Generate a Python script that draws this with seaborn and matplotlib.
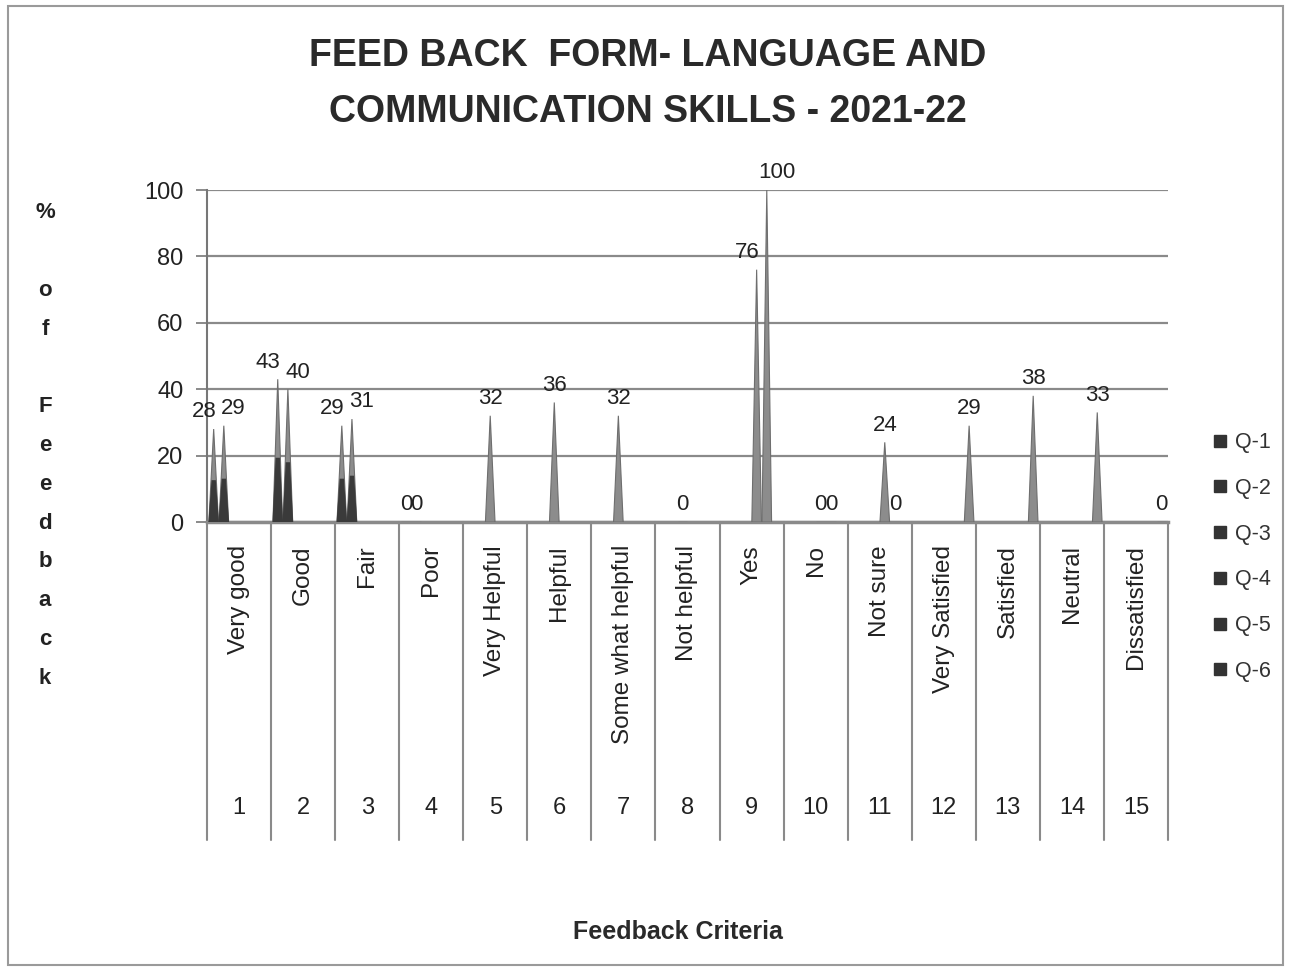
import matplotlib
matplotlib.use("Agg")
import matplotlib.pyplot as plt
from matplotlib.patches import Polygon, Rectangle
from matplotlib.lines import Line2D
import seaborn as sns
import pandas as pd
import numpy as np

# --- data ---
criteria = ["Very good", "Good", "Fair", "Poor", "Very Helpful", "Helpful",
            "Some what helpful", "Not helpful", "Yes", "No", "Not sure",
            "Very Satisfied", "Satisfied", "Neutral", "Dissatisfied"]
criteria_no = [str(i) for i in range(1, 16)]
series = ["Q-1", "Q-2", "Q-3", "Q-4", "Q-5", "Q-6"]
nan = np.nan
q1 = [28, 43, 29, 0, nan, nan, nan, nan, nan, nan, nan, nan, nan, nan, nan]
q2 = [29, 40, 31, 0, nan, nan, nan, nan, nan, nan, nan, nan, nan, nan, nan]
q3 = [nan, nan, nan, nan, 32, 36, 32, 0, nan, nan, nan, nan, nan, nan, nan]
q4 = [nan, nan, nan, nan, nan, nan, nan, nan, 76, 0, 24, nan, nan, nan, nan]
q5 = [nan, nan, nan, nan, nan, nan, nan, nan, 100, 0, 0, nan, nan, nan, nan]
q6 = [nan, nan, nan, nan, nan, nan, nan, nan, nan, nan, nan, 29, 38, 33, 0]
y_ticks = [0, 20, 40, 60, 80, 100]

rows = []
for name, vals in zip(series, [q1, q2, q3, q4, q5, q6]):
    for c, v in zip(criteria, vals):
        rows.append({"Criteria": c, "Series": name, "Value": v})
df = pd.DataFrame(rows)

sns.set_theme(style="white")
plt.rcParams["font.family"] = ["Liberation Sans", "DejaVu Sans"]

W, H = 1293, 971
fig = plt.figure(figsize=(W / 100, H / 100), dpi=100)
fig.patch.set_facecolor("white")

# outer chart border
fig.patches.append(Rectangle((8 / W, 6 / H), 1275 / W, 959 / H, transform=fig.transFigure,
                             fill=False, edgecolor="#9a9a9a", lw=1.5))

x0, x1, y0, y1 = 207, 1168, 522, 190
ax = fig.add_axes([x0 / W, 1 - y0 / H, (x1 - x0) / W, (y0 - y1) / H])

sns.barplot(data=df, x="Criteria", y="Value", hue="Series", order=criteria,
            hue_order=series, palette=["#8a8a8a"] * 6, width=0.95, dodge=True,
            legend=False, ax=ax, errorbar=None)

# turn bars into cones
cones = []
for p in list(ax.patches):
    h = p.get_height()
    xc = p.get_x() + p.get_width() / 2
    p.remove()
    if np.isnan(h):
        continue
    cones.append((xc, h))

half = 0.075
for xc, h in cones:
    ax.add_patch(Polygon([(xc - half, 0), (xc, h), (xc + half, 0)], closed=True,
                         facecolor="#8c8c8c", edgecolor="#6e6e6e", lw=0.8, zorder=3))
    if 0 < h < 50 and xc < 3:
        ax.add_patch(Polygon([(xc - half * 1.1, 0), (xc - half * 0.45, h * 0.45),
                              (xc + half * 0.45, h * 0.45), (xc + half * 1.1, 0)],
                             closed=True, facecolor="#3a3a3a", edgecolor="none", zorder=4))

# value labels; a pair of cones in one category gets its labels pushed apart
for xc, h in cones:
    cat = int(round(xc))
    mates = [c for c, v in cones if int(round(c)) == cat and c != xc and v > 0]
    dx = 0
    if mates and h > 0:
        dx = -0.15 if xc < mates[0] else 0.15
    ax.text(xc + dx, h + 2, f"{h:.0f}", ha="center", va="bottom", fontsize=16,
            color="#222222", zorder=5)

ax.set_xlim(-0.5, len(criteria) - 0.5)
ax.set_ylim(0, 100)
ax.set_yticks(y_ticks)
ax.set_yticklabels([str(t) for t in y_ticks], fontsize=17, color="#222222")
ax.tick_params(axis="y", length=8, width=1.2, color="#777777", pad=9, left=True)
ax.set_xticks([])
ax.set_xlabel("")
ax.set_ylabel("")
ax.grid(axis="y", color="#8a8a8a", lw=1.6)
ax.set_axisbelow(True)
for s in ["top", "right"]:
    ax.spines[s].set_visible(False)
ax.spines["left"].set_color("#777777")
ax.spines["bottom"].set_color("#8a8a8a")
ax.spines["left"].set_linewidth(1.5)
ax.spines["bottom"].set_linewidth(2.5)

# two-level category axis below the plot
span = y0 - y1
trans = ax.get_xaxis_transform()
for i in range(len(criteria) + 1):
    ax.plot([i - 0.5, i - 0.5], [0, -(840 - 522) / span], transform=trans,
            color="#8a8a8a", lw=1.5, clip_on=False)
for i, (c, n) in enumerate(zip(criteria, criteria_no)):
    ax.text(i, -(545 - 522) / span, c, transform=trans, rotation=90,
            ha="center", va="top", fontsize=17.5, color="#222222")
    ax.text(i, -(808 - 522) / span, n, transform=trans,
            ha="center", va="center", fontsize=17, color="#222222")

# title
fig.text(648 / W, 1 - 84 / H, "FEED BACK  FORM- LANGUAGE AND\nCOMMUNICATION SKILLS - 2021-22",
         ha="center", va="center", fontsize=27, fontweight="bold", color="#2a2a2a",
         linespacing=1.7)

# stacked y axis label
ylab = ["%", "", "o", "f", "", "F", "e", "e", "d", "b", "a", "c", "k"]
for i, ch in enumerate(ylab):
    if ch:
        fig.text(45 / W, 1 - (213 + i * 38.75) / H, ch, ha="center", va="center",
                 fontsize=16, fontweight="bold", color="#222222")

fig.text(678 / W, 1 - 932 / H, "Feedback Criteria", ha="center", va="center",
         fontsize=18, fontweight="bold", color="#2a2a2a")

handles = [Line2D([], [], marker="s", ls="none", color="#333333", markersize=9)
           for _ in series]
fig.legend(handles, series, loc="center left", bbox_to_anchor=(1192 / W, 1 - 557 / H),
           frameon=False, fontsize=15.5, labelspacing=1.15, handlelength=0.8,
           handletextpad=0.3, labelcolor="#333333")

fig.savefig("out.png", dpi=100)
